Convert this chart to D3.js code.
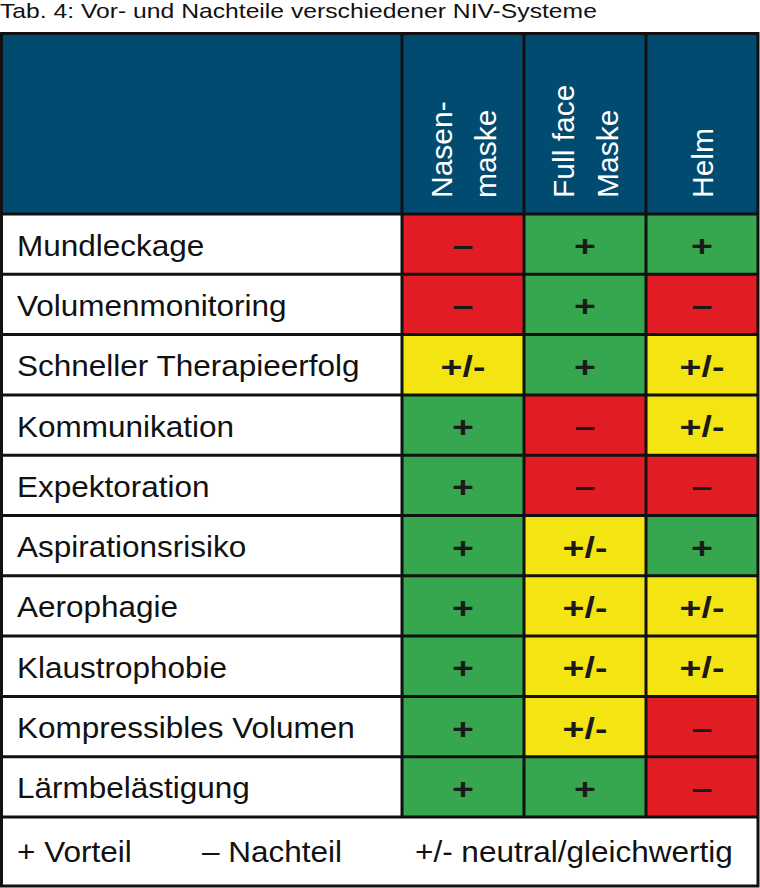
<!DOCTYPE html>
<html><head><meta charset="utf-8">
<script src="https://cdn.jsdelivr.net/npm/d3@7"></script>
<style>body{margin:0;background:#fff}svg{display:block}</style>
</head><body>
<svg id="c" width="760" height="888"></svg>
<script>
const title = "Tab. 4: Vor- und Nachteile verschiedener NIV-Systeme";
const systems = ["Nasenmaske", "Full face Maske", "Helm"];
const systemLabels = [["Nasen-", "maske"], ["Full face", "Maske"], ["Helm"]];
const criteria = ["Mundleckage", "Volumenmonitoring", "Schneller Therapieerfolg", "Kommunikation",
  "Expektoration", "Aspirationsrisiko", "Aerophagie", "Klaustrophobie", "Kompressibles Volumen", "Lärmbelästigung"];
// "+" Vorteil, "-" Nachteil, "0" neutral
const nasenmaske = ["-", "-", "0", "+", "+", "+", "+", "+", "+", "+"];
const fullFace   = ["+", "+", "+", "-", "-", "0", "0", "0", "0", "+"];
const helm       = ["+", "-", "0", "0", "-", "+", "0", "0", "-", "-"];
const ratingKeys = ["+", "-", "0"];
const ratingSymbols = ["+", "–", "+/-"];
const ratingColors = ["#36a74f", "#e21c24", "#f4e512"];
const legendItems = ["+ Vorteil", "– Nachteil", "+/- neutral/gleichwertig"];

const FONT = "Liberation Sans, Arial, Helvetica, sans-serif";
const series = [nasenmaske, fullFace, helm];
const cells = [];
criteria.forEach((c, i) => systems.forEach((s, j) => cells.push({crit: c, sys: s, v: series[j][i]})));

const svg = d3.select("#c");
const L = 1.5, R = 758, T = 33.5, B = 886;
const headerBottom = 214, legendTop = 817, labelRight = 402;

const color = d3.scaleOrdinal().domain(ratingKeys).range(ratingColors);
const symbol = d3.scaleOrdinal().domain(ratingKeys).range(ratingSymbols);
const y = d3.scaleBand().domain(criteria).range([headerBottom, legendTop]);
const x = d3.scaleBand().domain(systems).range([labelRight, labelRight + 366]);
const colRight = s => Math.min(x(s) + x.bandwidth(), R);
const colCenter = s => (x(s) + colRight(s)) / 2;

// title (stretched to the reference width)
const tt = svg.append("text").attr("font-family", FONT).attr("font-size", 20.5)
  .attr("fill", "#111").text(title);
const tw = tt.node().getComputedTextLength();
tt.attr("transform", `translate(0,18) scale(${597 / tw},1)`);

// header background
svg.append("rect").attr("x", L).attr("y", T).attr("width", R - L).attr("height", headerBottom - T).attr("fill", "#024b70");

// cells
svg.append("g").selectAll("rect").data(cells).join("rect")
  .attr("x", d => x(d.sys)).attr("y", d => y(d.crit))
  .attr("width", d => colRight(d.sys) - x(d.sys)).attr("height", y.bandwidth())
  .attr("fill", d => color(d.v));

svg.append("g").selectAll("text").data(cells).join("text")
  .attr("transform", d => `translate(${colCenter(d.sys)},${y(d.crit) + y.bandwidth() / 2 + 12}) scale(1.25,1)`)
  .attr("text-anchor", "middle")
  .attr("font-family", FONT).attr("font-size", 30).attr("font-weight", "bold")
  .attr("fill", "#1a1a1a").text(d => symbol(d.v));

// row labels
svg.append("g").selectAll("text").data(criteria).join("text")
  .attr("transform", d => `translate(17,${y(d) + y.bandwidth() / 2 + 11.5}) scale(1.05,1)`)
  .attr("font-family", FONT).attr("font-size", 30)
  .attr("fill", "#111").text(d => d);

// header labels (rotated)
systems.forEach((s, j) => {
  const lines = systemLabels[j];
  const cx = colCenter(s);
  const base = lines.length === 2 ? [cx - 11, cx + 33] : [cx + 11];
  lines.forEach((t, k) => {
    svg.append("text").attr("transform", `translate(${base[k]},198) rotate(-90)`)
      .attr("font-family", FONT).attr("font-size", 30)
      .attr("fill", "#fff").text(t);
  });
});

// grid lines
const g = svg.append("g").attr("stroke", "#111").attr("stroke-width", 3);
[...criteria.map(c => y(c)), legendTop].forEach(v =>
  g.append("line").attr("x1", L).attr("x2", R).attr("y1", v).attr("y2", v));
[labelRight, ...systems.slice(1).map(s => x(s))].forEach(v =>
  g.append("line").attr("x1", v).attr("x2", v).attr("y1", T).attr("y2", legendTop));
g.append("rect").attr("x", L).attr("y", T).attr("width", R - L).attr("height", B - T).attr("fill", "none");

// legend
const legendX = [17, 202, 415];
svg.append("g").selectAll("text").data(legendItems).join("text")
  .attr("transform", (d, i) => `translate(${legendX[i]},862) scale(1.05,1)`)
  .attr("font-family", FONT).attr("font-size", 30)
  .attr("fill", "#111").text(d => d);
</script>
</body></html>
